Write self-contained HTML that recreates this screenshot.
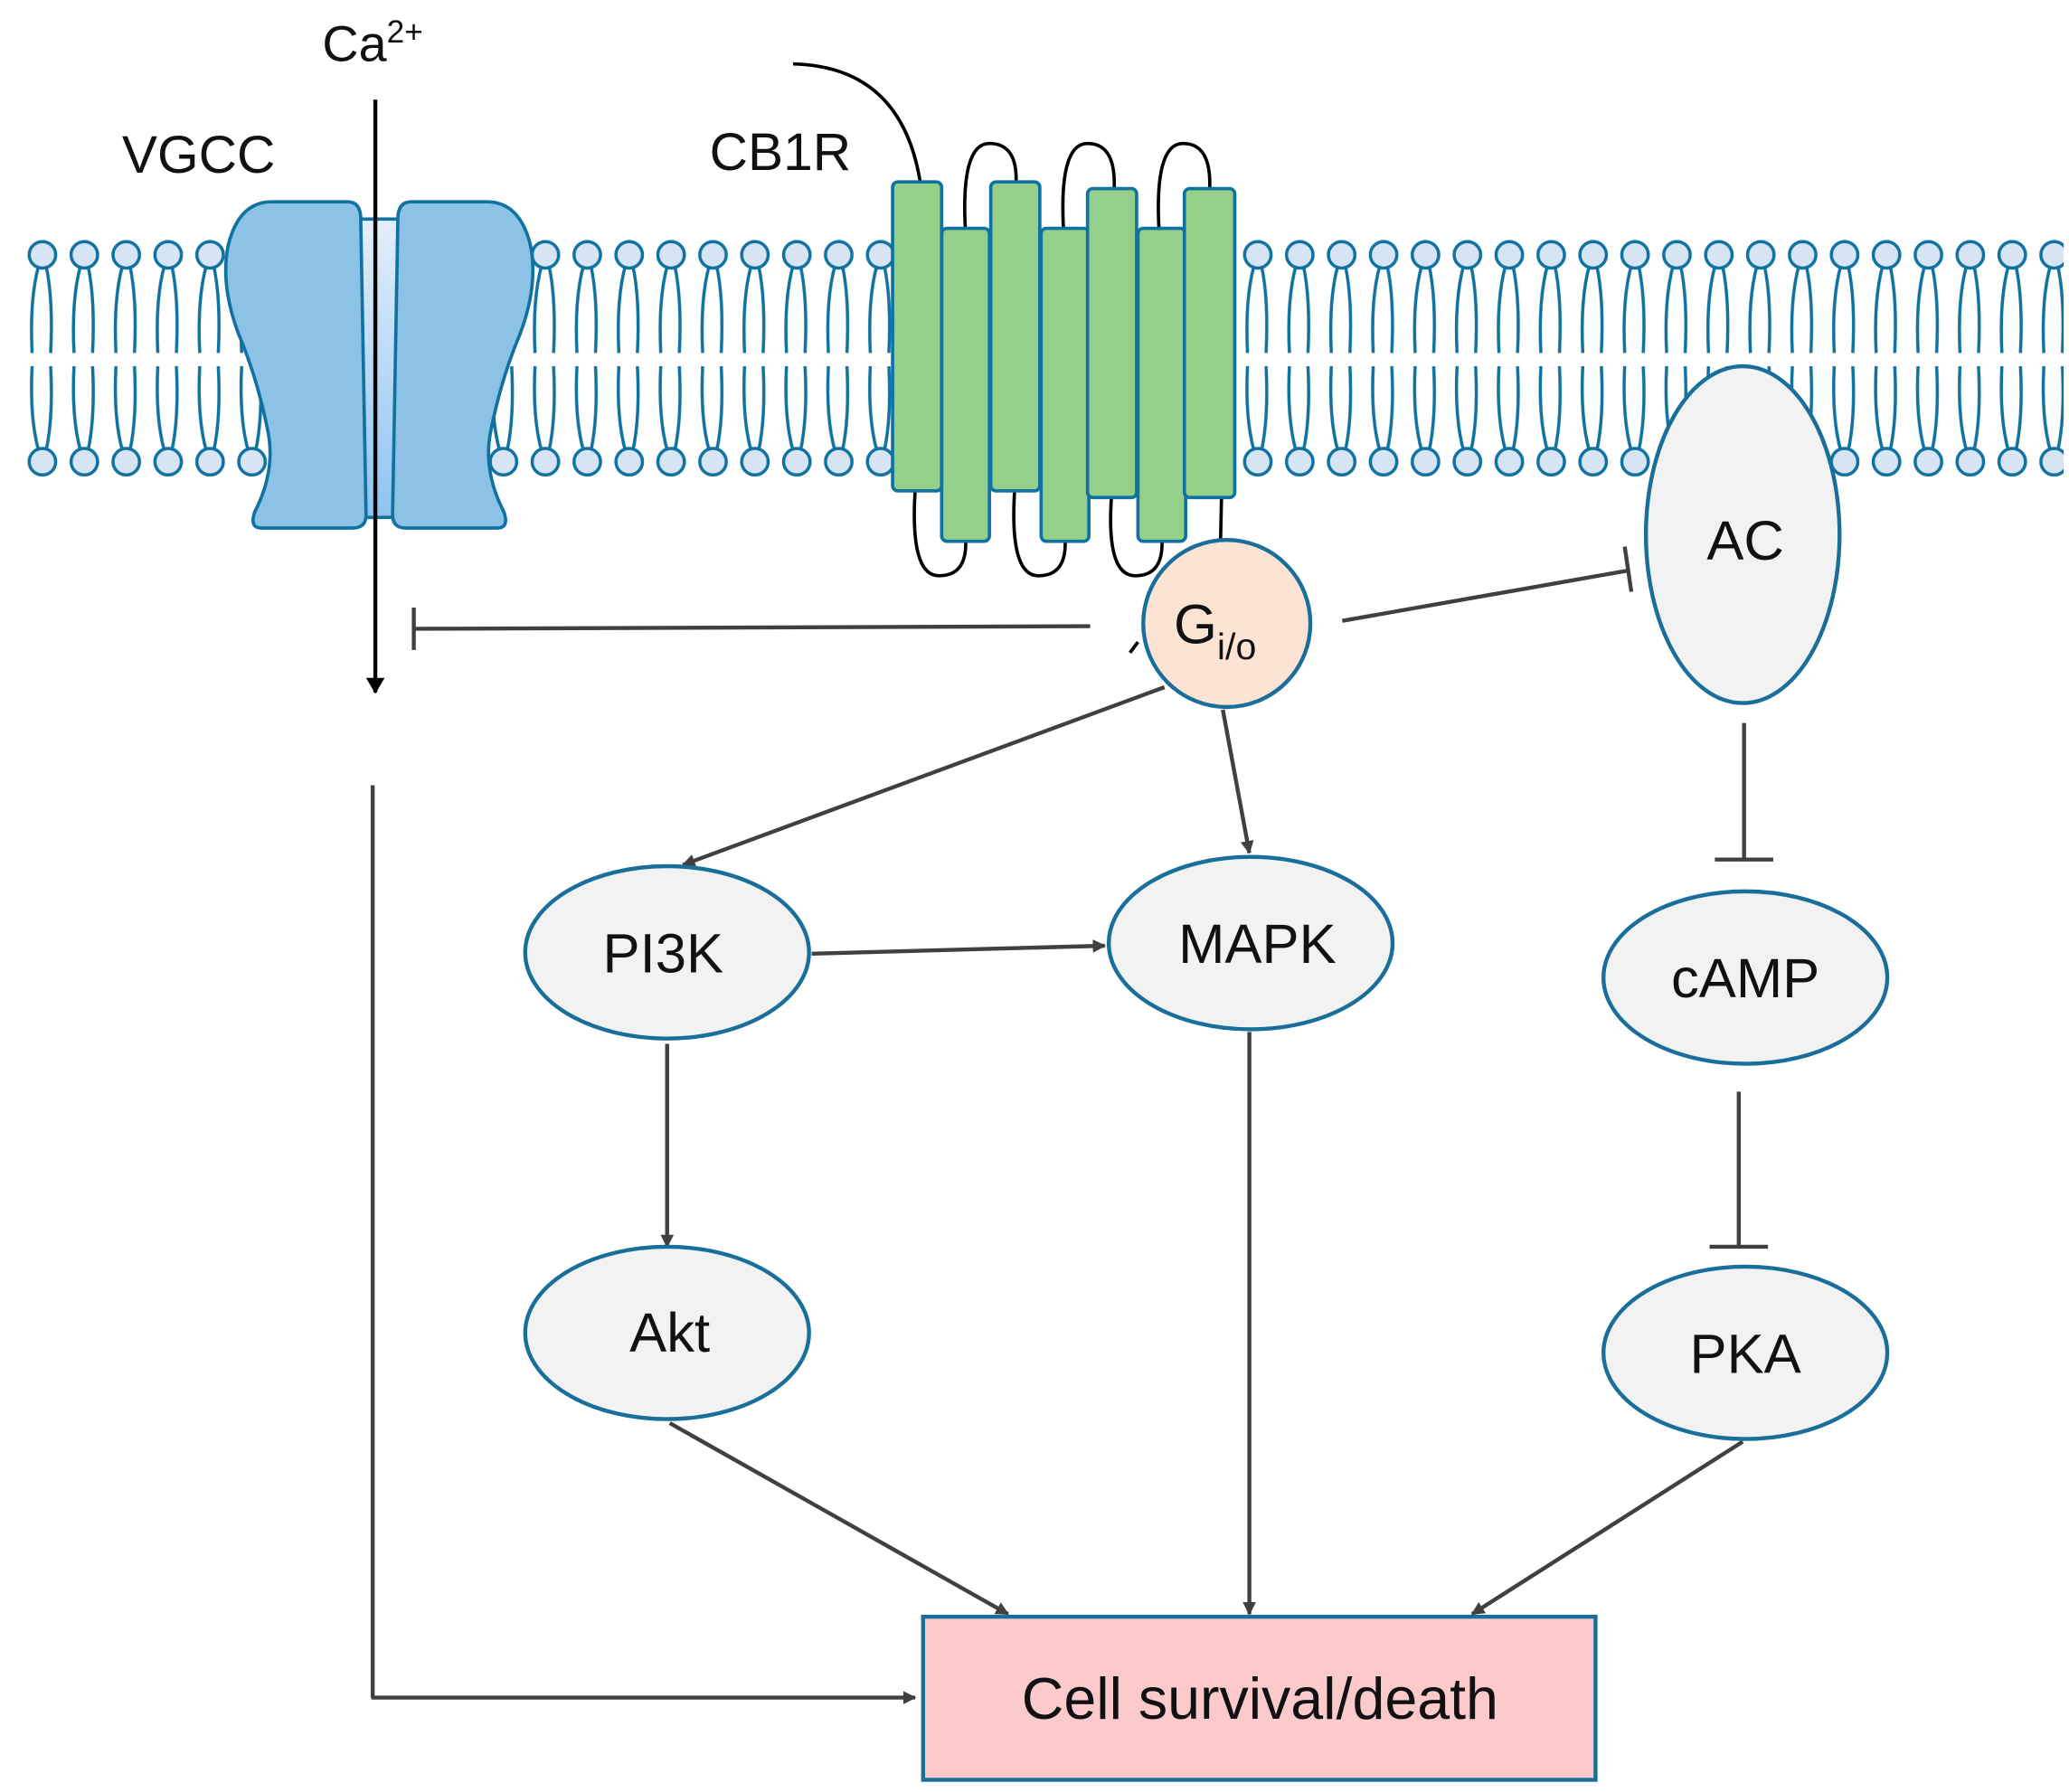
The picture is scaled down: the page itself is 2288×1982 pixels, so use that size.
<!DOCTYPE html>
<html><head><meta charset="utf-8"><style>
html,body{margin:0;padding:0;background:#fff;}
svg{display:block;}
text{font-family:"Liberation Sans",sans-serif;fill:#111;}
</style></head><body>
<svg width="2288" height="1982" viewBox="0 0 1560 1351" xmlns="http://www.w3.org/2000/svg">
<defs>
<pattern id="lip" patternUnits="userSpaceOnUse" x="16.2" y="170" width="31.6" height="200">
<g stroke="#1072a0" stroke-width="2.4" fill="none">
<path d="M13,30 Q6,55 8,96"/><path d="M18.5,30 Q24,55 22,96"/>
<path d="M13,170 Q6,145 8,106"/><path d="M18.5,170 Q24,145 22,106"/>
</g>
<circle cx="15.8" cy="22" r="10" fill="#d6e4f4" stroke="#1072a0" stroke-width="2.4"/>
<circle cx="15.8" cy="178" r="10" fill="#d6e4f4" stroke="#1072a0" stroke-width="2.4"/>
</pattern>
<marker id="ah" markerWidth="10" markerHeight="10" refX="9" refY="5" orient="auto" markerUnits="userSpaceOnUse">
<path d="M0,0 L10,5 L0,10 Z" fill="#404040"/></marker>
<marker id="ahb" markerWidth="12" markerHeight="14" refX="11" refY="7" orient="auto" markerUnits="userSpaceOnUse">
<path d="M0,0 L12,7 L0,14 Z" fill="#000"/></marker>
<linearGradient id="pore" x1="0" y1="0" x2="0" y2="1"><stop offset="0" stop-color="#e4eefa"/><stop offset="1" stop-color="#8ec4f2"/></linearGradient>
</defs>

<rect x="16" y="170" width="1540" height="200" fill="url(#lip)"/>

<rect x="268" y="165" width="36" height="225" fill="url(#pore)" stroke="#1072a0" stroke-width="2.5"/>
<path d="M205,152 H262 Q272,152 272,165 L276,388 Q276,398 266,398 H197 Q188,398 192,386 Q208,355 202,325 Q194,285 180,252 Q166,215 172,185 Q180,152 205,152 Z" fill="#8cc2e6" stroke="#1072a0" stroke-width="2.5"/>
<path d="M367,152 H310 Q300,152 300,165 L296,388 Q296,398 306,398 H375 Q384,398 380,386 Q364,355 370,325 Q378,285 392,252 Q406,215 400,185 Q392,152 367,152 Z" fill="#8cc2e6" stroke="#1072a0" stroke-width="2.5"/>

<g stroke="#000" stroke-width="2.5" fill="none">
<path d="M598,48 Q680,50 694,138"/>
<path d="M728,175 Q724,108 746,108 Q768,108 766,140"/>
<path d="M802,175 Q798,108 820,108 Q842,108 840,144"/>
<path d="M874,175 Q870,108 892,108 Q914,108 912,144"/>
<path d="M690,370 Q686,434 708,434 Q730,434 728,405"/>
<path d="M765,370 Q761,434 783,434 Q805,434 803,405"/>
<path d="M838,375 Q834,434 856,434 Q878,434 876,405"/>
<path d="M921,375 L920,420"/>
<path d="M852,492 L858,484"/>
</g>
<g fill="#95d08a" stroke="#1072a0" stroke-width="2.5">
<rect x="710" y="172" width="36" height="236" rx="4"/>
<rect x="785" y="172" width="36" height="236" rx="4"/>
<rect x="858" y="172" width="36" height="236" rx="4"/>
<rect x="673" y="137" width="37" height="233" rx="4"/>
<rect x="747" y="137" width="37" height="233" rx="4"/>
<rect x="820" y="142" width="37" height="233" rx="4"/>
<rect x="893" y="142" width="38" height="233" rx="4"/>
</g>

<text x="243" y="46" font-size="38">Ca<tspan font-size="24" dy="-14">2+</tspan></text>
<text x="92" y="130" font-size="40">VGCC</text>
<text x="535" y="128" font-size="40">CB1R</text>

<line x1="283" y1="75" x2="283" y2="522" stroke="#000" stroke-width="3" marker-end="url(#ahb)"/>

<g stroke="#404040" stroke-width="3" fill="none">
<line x1="822" y1="472" x2="312" y2="474"/>
<line x1="312" y1="458" x2="312" y2="490"/>
<line x1="1012" y1="468" x2="1228" y2="430"/>
<line x1="1225" y1="412" x2="1230" y2="446"/>
<line x1="1315" y1="545" x2="1315" y2="648"/>
<line x1="1293" y1="648" x2="1337" y2="648"/>
<line x1="1311" y1="823" x2="1311" y2="940"/>
<line x1="1289" y1="940" x2="1333" y2="940"/>
<line x1="281" y1="592" x2="281" y2="1280"/>
<line x1="280" y1="1280" x2="690" y2="1280" marker-end="url(#ah)"/>
<line x1="878" y1="518" x2="515" y2="652" marker-end="url(#ah)"/>
<line x1="922" y1="535" x2="942" y2="643" marker-end="url(#ah)"/>
<line x1="612" y1="719" x2="833" y2="713" marker-end="url(#ah)"/>
<line x1="503" y1="787" x2="503" y2="940" marker-end="url(#ah)"/>
<line x1="942" y1="778" x2="942" y2="1217" marker-end="url(#ah)"/>
<line x1="505" y1="1073" x2="760" y2="1217" marker-end="url(#ah)"/>
<line x1="1314" y1="1087" x2="1110" y2="1217" marker-end="url(#ah)"/>
</g>

<g stroke="#1a6f9a" stroke-width="3">
<ellipse cx="1314" cy="403" rx="73" ry="127" fill="#f2f2f2"/>
<circle cx="925" cy="470" r="63" fill="#fde3d3"/>
<ellipse cx="503" cy="718" rx="107" ry="65" fill="#f2f2f2"/>
<ellipse cx="943" cy="711" rx="107" ry="65" fill="#f2f2f2"/>
<ellipse cx="503" cy="1005" rx="107" ry="65" fill="#f2f2f2"/>
<ellipse cx="1316" cy="737" rx="107" ry="65" fill="#f2f2f2"/>
<ellipse cx="1316" cy="1020" rx="107" ry="65" fill="#f2f2f2"/>
<rect x="696" y="1219" width="507" height="123" fill="#fccacb"/>
</g>
<g font-size="42" text-anchor="middle">
<text x="1316" y="422">AC</text>
<text x="500" y="733">PI3K</text>
<text x="948" y="726">MAPK</text>
<text x="505" y="1019">Akt</text>
<text x="1316" y="752">cAMP</text>
<text x="1316" y="1035">PKA</text>
<text x="950" y="1296" font-size="44">Cell survival/death</text>
</g>
<text x="885" y="485" font-size="42">G<tspan font-size="28" dy="12">i/o</tspan></text>
</svg>
</body></html>
